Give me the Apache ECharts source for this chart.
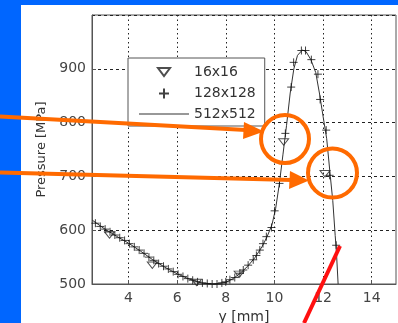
<!DOCTYPE html>
<html>
<head>
<meta charset="utf-8">
<script src="https://cdn.jsdelivr.net/npm/echarts@6/dist/echarts.min.js"></script>
<style>
html,body{margin:0;padding:0;background:#0066ff;}
#c{width:398px;height:323px;}
</style>
</head>
<body>
<div id="c"></div>
<script>
// ---- data ----
const xTicks = [4, 6, 8, 10, 12, 14];
const yTicks = [500, 600, 700, 800, 900];

const seriesNames = ['16x16', '128x128', '512x512'];

// 512x512 solid line
const line512X = [2.5, 3.0, 3.5, 4.0, 4.5, 5.0, 5.5, 6.0, 6.5, 7.0, 7.5, 8.0, 8.3, 8.6, 8.9, 9.2, 9.5, 9.7, 9.9, 10.05, 10.2, 10.35, 10.5, 10.65, 10.8, 10.95, 11.15, 11.3, 11.5, 11.7, 11.85, 12.0, 12.15, 12.3, 12.4, 12.5, 12.55, 12.62];
const line512Y = [619, 603, 589, 576, 561, 545, 531, 519, 509, 502, 500, 503, 510, 520, 533, 549, 570, 588, 610, 640, 685, 740, 795, 855, 900, 925, 935, 932, 917, 893, 855, 812, 770, 700, 655, 590, 560, 500];

// 128x128 plus markers
const pts128X = [2.64, 2.84, 3.04, 3.24, 3.44, 3.64, 3.84, 4.04, 4.24, 4.44, 4.64, 4.84, 5.04, 5.24, 5.44, 5.64, 5.84, 6.04, 6.24, 6.44, 6.64, 6.84, 7.04, 7.24, 7.44, 7.64, 7.84, 8.0, 8.17, 8.37, 8.58, 8.72, 8.92, 9.13, 9.26, 9.40, 9.53, 9.67, 9.88, 10.01, 10.21, 10.45, 10.69, 10.79, 11.11, 11.28, 11.52, 11.79, 11.88, 12.13, 12.27, 12.54];
const pts128Y = [613, 607, 602, 597, 591, 586, 581, 575, 569, 563, 557, 550, 544, 538, 533, 528, 523, 518, 514, 510, 507, 504, 502, 501, 500, 500, 502, 504, 508, 512, 520, 526, 535, 545, 553, 563, 575, 588, 605, 636, 687, 780, 866, 912, 934, 934, 917, 890, 843, 786, 702, 572];

// 16x16 triangle markers
const pts16X = [3.22, 4.98, 6.8, 8.55, 10.38, 12.08];
const pts16Y = [591, 535, 503, 518, 764, 705];

// ---- build ----
const zip = (xs, ys) => xs.map((x, i) => [x, ys[i]]);
const font = 'DejaVu Sans';
const triPath = 'path://M0,0 L10,0 L5,8 Z';
const plusPath = 'path://M5,0 L5,10 M0,5 L10,5';
// legend icons: padded to the 50x14 legend cell with invisible move-to points
const triIcon = 'path://M0,0 M50,14 M19,3 L31,3 L25,11 Z';
const plusIcon = 'path://M0,0 M50,14 M25,2 L25,12 M20,7 L30,7';
const lineIcon = 'path://M0,0 M50,14 M0,6.5 L50,6.5 L50,7.5 L0,7.5 Z';

const chart = echarts.init(document.getElementById('c'), null, {renderer: 'canvas'});
const option = {
  animation: false,
  backgroundColor: '#0066ff',
  grid: {left: 92, top: 15, right: 2, bottom: 39, outerBoundsMode: 'none', containLabel: false,
         show: true, borderColor: '#555', borderWidth: 1, backgroundColor: 'transparent'},
  legend: {
    orient: 'vertical', left: 128, top: 58,
    data: [
      {name: seriesNames[0], icon: triIcon},
      {name: seriesNames[1], icon: plusIcon},
      {name: seriesNames[2], icon: lineIcon}
    ],
    symbolKeepAspect: true,
    backgroundColor: '#fff', borderColor: '#555', borderWidth: 1, borderRadius: 0,
    padding: [6, 9, 5, 10], itemGap: 5.5, itemWidth: 50, itemHeight: 14,
    textStyle: {fontFamily: font, fontSize: 14, color: '#333'}
  },
  xAxis: {
    type: 'value', min: 2.5, max: 15,
    name: 'y [mm]', nameLocation: 'middle', nameGap: 25,
    nameTextStyle: {fontFamily: font, fontSize: 14, color: '#333'},
    axisLine: {show: true, lineStyle: {color: '#555', width: 1}},
    axisTick: {show: true, inside: true, length: 4, customValues: xTicks, lineStyle: {color: '#555'}},
    axisLabel: {customValues: xTicks, fontFamily: font, fontSize: 14, color: '#444', margin: 7},
    splitLine: {show: true, lineStyle: {color: '#222', type: [1.5, 3], width: 1}}
  },
  yAxis: {
    type: 'value', min: 500, max: 1000, interval: 100,
    name: 'Pressure [MPa]', nameLocation: 'middle', nameGap: 44,
    nameTextStyle: {fontFamily: font, fontSize: 13, color: '#333'},
    axisLine: {show: true, lineStyle: {color: '#555', width: 1}},
    axisTick: {show: true, inside: true, length: 4, lineStyle: {color: '#555'}},
    axisLabel: {showMaxLabel: false, fontFamily: font, fontSize: 14, color: '#444', margin: 6},
    splitLine: {show: true, lineStyle: {color: '#222', type: [3, 3], width: 1}}
  },
  series: [
    {name: seriesNames[0], type: 'scatter', data: zip(pts16X, pts16Y), symbol: triPath, symbolSize: [10, 8], symbolKeepAspect: true,
     itemStyle: {color: 'transparent', borderColor: '#222', borderWidth: 1}, z: 4},
    {name: seriesNames[1], type: 'scatter', data: zip(pts128X, pts128Y), symbol: plusPath, symbolSize: 8, symbolKeepAspect: true,
     itemStyle: {color: 'transparent', borderColor: '#111', borderWidth: 1}, z: 3},
    {name: seriesNames[2], type: 'line', data: zip(line512X, line512Y), symbol: 'none', smooth: false,
     lineStyle: {color: '#333', width: 1}, itemStyle: {color: '#333'}, z: 2}
  ],
  graphic: [
    {type: 'rect', z: -10, shape: {x: 21, y: 5, width: 377, height: 318}, style: {fill: '#fff'}, silent: true},
    // annotations
    {type: 'line', z: 100, shape: {x1: 0, y1: 116.5, x2: 246, y2: 130}, style: {stroke: '#ff6a00', lineWidth: 4}},
    {type: 'polygon', z: 100, shape: {points: [[244, 122], [264, 131.5], [243, 139]]}, style: {fill: '#ff6a00'}},
    {type: 'line', z: 100, shape: {x1: 0, y1: 172.5, x2: 292, y2: 180}, style: {stroke: '#ff6a00', lineWidth: 4}},
    {type: 'polygon', z: 100, shape: {points: [[290, 171], [309, 180.5], [289, 189]]}, style: {fill: '#ff6a00'}},
    {type: 'circle', z: 100, shape: {cx: 285, cy: 139, r: 24}, style: {fill: 'none', stroke: '#ff6a00', lineWidth: 4}},
    {type: 'circle', z: 100, shape: {cx: 332.5, cy: 173, r: 24.5}, style: {fill: 'none', stroke: '#ff6a00', lineWidth: 4}},
    {type: 'line', z: 100, shape: {x1: 340, y1: 246, x2: 304, y2: 323}, style: {stroke: '#ff1010', lineWidth: 4}}
  ]
};
chart.setOption(option);
</script>
</body>
</html>
